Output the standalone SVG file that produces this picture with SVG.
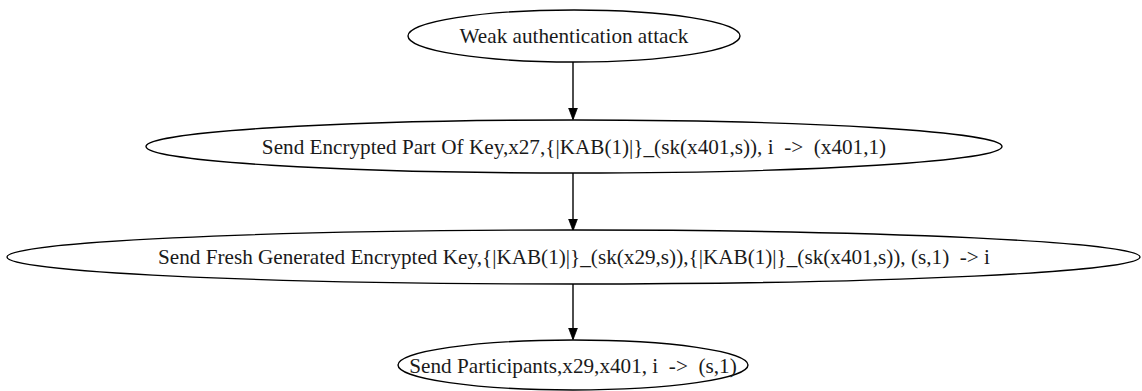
<svg xmlns="http://www.w3.org/2000/svg" width="1142" height="391" viewBox="0 0 1142 391">
  <style>
    .node ellipse { fill: #ffffff; stroke: #000000; stroke-width: 1.4; }
    .node text { font-family: "Liberation Serif", "Times New Roman", serif; font-size: 21.2px; fill: #1a1a1a; text-anchor: middle; white-space: pre; }
    .edge line { stroke: #000000; stroke-width: 1.4; }
  </style>
  <defs>
    <marker id="arrow" markerWidth="12" markerHeight="16" refX="15" refY="6" viewBox="0 0 16 12" orient="auto" markerUnits="userSpaceOnUse">
      <path d="M0,0 L16,6 L0,12 Z" fill="#000000" stroke="#000000" stroke-width="1"/>
    </marker>
  </defs>
  <rect width="1142" height="391" fill="#ffffff"/>

  <!-- connectors: straight vertical edges between consecutive steps -->
  <g id="edges" class="edge">
    <line x1="573" y1="62" x2="573" y2="119" marker-end="url(#arrow)"/>
    <line x1="573" y1="173" x2="573" y2="230" marker-end="url(#arrow)"/>
    <line x1="573" y1="284" x2="573" y2="339" marker-end="url(#arrow)"/>
  </g>

  <g id="weak_auth" class="node">
    <ellipse cx="574" cy="36" rx="166" ry="26"/>
    <text x="574" y="43" xml:space="preserve">Weak authentication attack</text>
  </g>

  <g id="send_encrypted_part" class="node">
    <ellipse cx="574" cy="146.5" rx="428" ry="26.5"/>
    <text x="574" y="154" xml:space="preserve">Send Encrypted Part Of Key,x27,{|KAB(1)|}_(sk(x401,s)), i  -&gt;  (x401,1)</text>
  </g>

  <g id="send_fresh_key" class="node">
    <ellipse cx="573.5" cy="257" rx="566.5" ry="27"/>
    <text x="574" y="264" xml:space="preserve">Send Fresh Generated Encrypted Key,{|KAB(1)|}_(sk(x29,s)),{|KAB(1)|}_(sk(x401,s)), (s,1)  -&gt; i</text>
  </g>

  <g id="send_participants" class="node">
    <ellipse cx="573" cy="365" rx="175" ry="25"/>
    <text x="573" y="373" xml:space="preserve">Send Participants,x29,x401, i  -&gt;  (s,1)</text>
  </g>
</svg>
